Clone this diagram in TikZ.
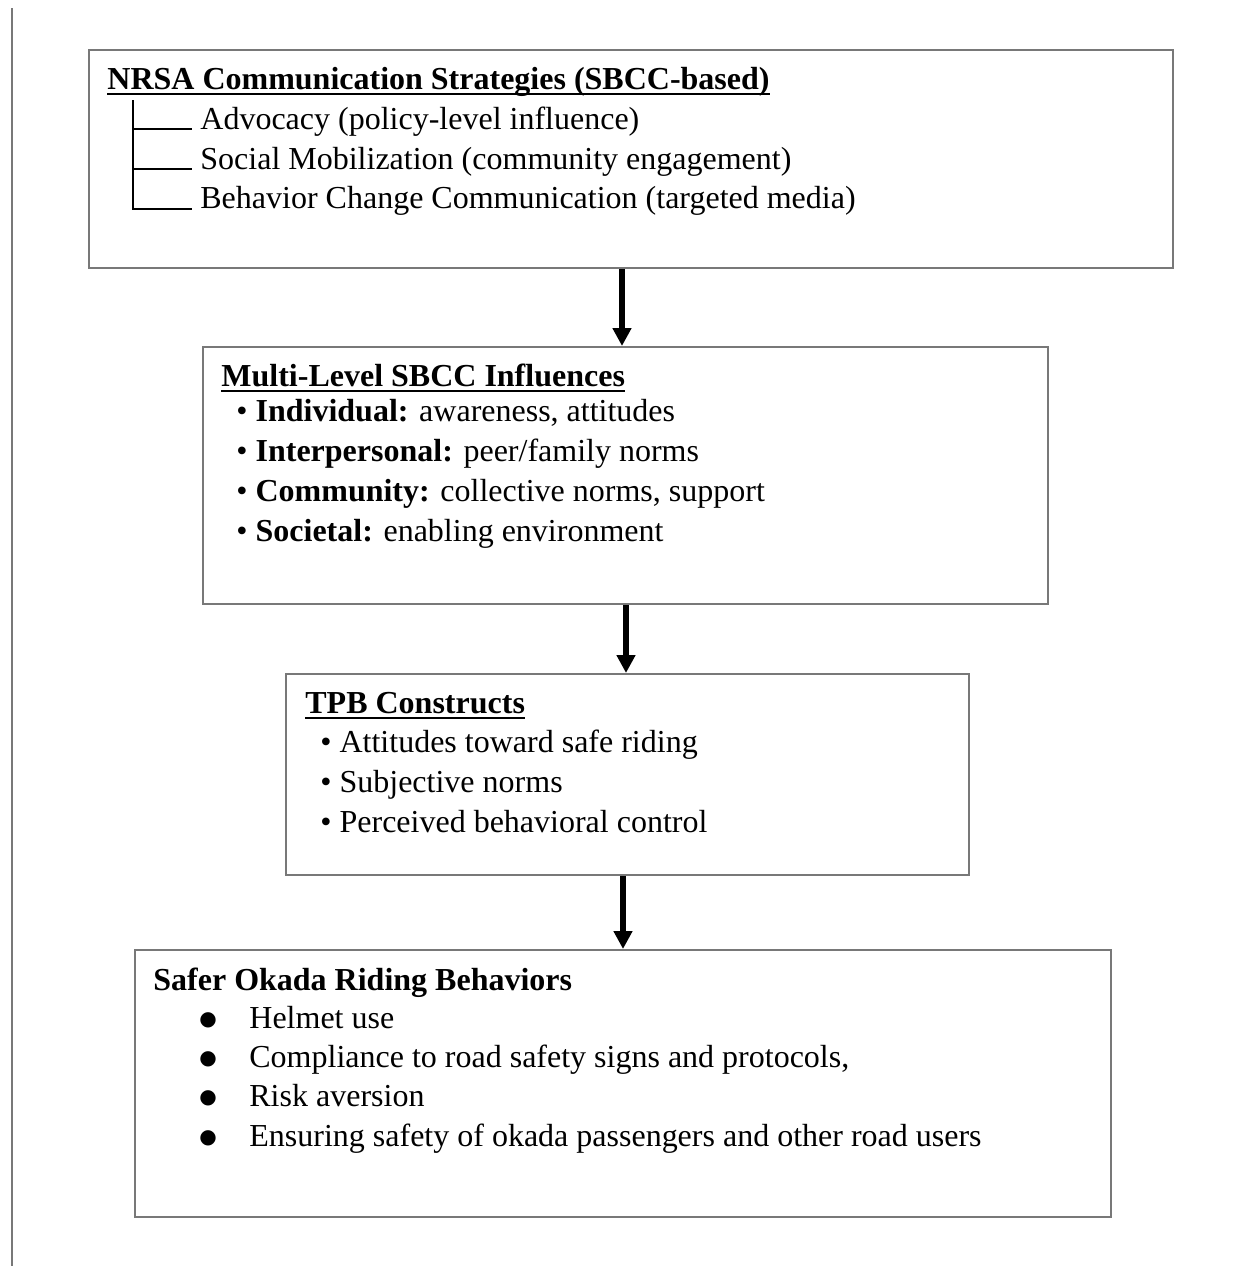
\documentclass[tikz,border=0pt]{standalone}
\usepackage{fontspec}
\setmainfont{Liberation Serif}
\newfontfamily\symfont{DejaVu Sans}
\usetikzlibrary{arrows.meta}
\definecolor{framegray}{RGB}{120,120,120}
\begin{document}
\begin{tikzpicture}[x=0.5pt,y=-0.5pt,
  box/.style={draw=framegray, line width=1pt, inner sep=0pt, anchor=north west},
  txt/.style={anchor=base west, inner sep=0pt, font=\fontsize{16}{19}\selectfont},
  ttl/.style={anchor=base west, inner sep=0pt, font=\fontsize{16}{19}\selectfont\bfseries},
  bigbullet/.style={anchor=center, inner sep=0pt, font=\symfont\fontsize{10}{10}\selectfont},
  uline/.style={line width=1.3pt},
  arr/.style={line width=2.6pt, -{Triangle[length=9pt,width=9pt]}},
  treeline/.style={line width=1.2pt},
  pageline/.style={draw=framegray, line width=1pt}]
\useasboundingbox (0,0) rectangle (1236,1266);
\fill[white] (0,0) rectangle (1236,1266);

% left page margin line
\draw[pageline] (12,8) -- (12,1266);

% boxes
\node[box, minimum width=542pt, minimum height=109pt] (b1) at (88,49) {};
\node[box, minimum width=422.5pt, minimum height=128.5pt] (b2) at (202,346) {};
\node[box, minimum width=341.5pt, minimum height=100.5pt] (b3) at (285,673) {};
\node[box, minimum width=488pt, minimum height=133.5pt] (b4) at (134,949) {};

% box 1
\node[ttl] (t1) at (107,89) {NRSA Communication Strategies (SBCC-based)};
\draw[uline] ([yshift=-2.5pt]t1.base west) -- ([yshift=-2.5pt]t1.base east);
\draw[treeline] (133,100) -- (133,209) -- (192,209);
\draw[treeline] (133,129) -- (192,129);
\draw[treeline] (133,169) -- (192,169);
\node[txt] (l11) at (200,129) {Advocacy (policy-level influence)};
\node[txt] (l12) at (200,169) {Social Mobilization (community engagement)};
\node[txt] (l13) at (200,208) {Behavior Change Communication (targeted media)};

% box 2
\node[ttl] (t2) at (221,386) {Multi-Level SBCC Influences};
\draw[uline] ([yshift=-2.5pt]t2.base west) -- ([yshift=-2.5pt]t2.base east);
\node[txt] (l21) at (236,421) {• \textbf{Individual:} awareness, attitudes};
\node[txt] (l22) at (236,461) {• \textbf{Interpersonal:} peer/family norms};
\node[txt] (l23) at (236,501) {• \textbf{Community:} collective norms, support};
\node[txt] (l24) at (236,541) {• \textbf{Societal:} enabling environment};

% box 3
\node[ttl] (t3) at (305,713) {TPB Constructs};
\draw[uline] ([yshift=-2.5pt]t3.base west) -- ([yshift=-2.5pt]t3.base east);
\node[txt] (l31) at (320,752) {• Attitudes toward safe riding};
\node[txt] (l32) at (320,792) {• Subjective norms};
\node[txt] (l33) at (320,832) {• Perceived behavioral control};

% box 4
\node[ttl] (t4) at (153,990) {Safer Okada Riding Behaviors};
\node[bigbullet] (p1) at (208,1020) {●};
\node[bigbullet] (p2) at (208,1059) {●};
\node[bigbullet] (p3) at (208,1098) {●};
\node[bigbullet] (p4) at (208,1138) {●};
\node[txt] (l41) at (249,1028) {Helmet use};
\node[txt] (l42) at (249,1067) {Compliance to road safety signs and protocols,};
\node[txt] (l43) at (249,1106) {Risk aversion};
\node[txt] (l44) at (249,1146) {Ensuring safety of okada passengers and other road users};

% arrows
\draw[arr] (b1.south -| 622,0) -- (b2.north -| 622,0);
\draw[arr] (b2.south -| 626,0) -- (b3.north -| 626,0);
\draw[arr] (b3.south -| 623,0) -- (b4.north -| 623,0);
\end{tikzpicture}
\end{document}
